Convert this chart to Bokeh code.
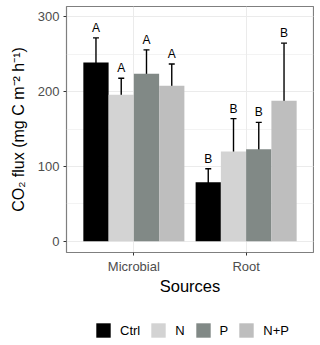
from bokeh.plotting import figure
from bokeh.layouts import column
from bokeh.models import (ColumnDataSource, Range1d, FixedTicker, SingleIntervalTicker,
                          Whisker, TeeHead, Legend, LegendItem)
from bokeh.transform import dodge
from bokeh.core.properties import value
from bokeh.embed import file_html
from bokeh.resources import INLINE

sources = ["Microbial", "Root"]
treatments = ["Ctrl", "N", "P", "N+P"]
colors = ["#000000", "#d3d3d3", "#818986", "#bebebe"]
mean_ctrl = [239, 79]
mean_n = [196, 120]
mean_p = [224, 123]
mean_np = [208, 188]
se_ctrl = [33, 18]
se_n = [22, 44]
se_p = [32, 36]
se_np = [29, 77]
letters_ctrl = ["A", "B"]
letters_n = ["A", "B"]
letters_p = ["A", "B"]
letters_np = ["A", "B"]

means = [mean_ctrl, mean_n, mean_p, mean_np]
ses = [se_ctrl, se_n, se_p, se_np]
letters = [letters_ctrl, letters_n, letters_p, letters_np]

FONT = "Liberation Sans"
dodge_width = 0.9
bar_w = dodge_width / len(treatments)
pos = list(range(1, len(sources) + 1))

p = figure(width=314, height=297, x_range=Range1d(0.4, 2.6), y_range=Range1d(-15, 314),
           output_backend="svg", toolbar_location=None,
           min_border_left=66, min_border_right=1, min_border_top=6, min_border_bottom=44)

# legend-only figure below the main plot (frames are aligned by the column)
lf = figure(width=314, height=43, x_range=Range1d(0, 1), y_range=Range1d(0, 1),
            output_backend="svg", toolbar_location=None,
            x_axis_location=None, y_axis_location=None,
            min_border_left=0, min_border_right=0, min_border_top=0, min_border_bottom=0)
lf.xgrid.visible = False
lf.ygrid.visible = False
lf.outline_line_color = None

items = []
for j, t in enumerate(treatments):
    off = (j - (len(treatments) - 1) / 2) * bar_w
    m = means[j]
    s = ses[j]
    src = ColumnDataSource(dict(
        pos=pos, mean=m,
        upper=[a + b for a, b in zip(m, s)],
        lower=[a - b for a, b in zip(m, s)],
        letter=letters[j],
    ))
    p.vbar(x=dodge("pos", off, range=p.x_range), top="mean", bottom=0, width=bar_w,
           source=src, fill_color=colors[j], line_color=None)
    lr = lf.vbar(x="pos", top="mean", bottom=0, width=bar_w, source=src,
                 fill_color=colors[j], line_color=None, visible=False)
    items.append(LegendItem(label=t, renderers=[lr]))
    w = Whisker(base=dodge("pos", off, range=p.x_range), upper="upper", lower="lower", source=src,
                line_color="black", line_width=1.4,
                upper_head=TeeHead(size=6, line_color="black", line_width=1.4),
                lower_head=TeeHead(size=6, line_color="black", line_width=1.4))
    p.add_layout(w)
    p.text(x=dodge("pos", off, range=p.x_range), y="upper", text="letter", source=src,
           text_font=value(FONT), text_font_size="12px", text_color="black",
           text_align="center", text_baseline="bottom", y_offset=-3)

legend = Legend(items=items, orientation="horizontal", location=(28, 1),
                glyph_width=18, glyph_height=18, label_height=18, label_width=0,
                label_standoff=8, spacing=9, padding=0, margin=0,
                border_line_color=None, background_fill_alpha=0,
                label_text_font=FONT, label_text_font_size="13px", label_text_color="black")
lf.add_layout(legend, "center")

# axes
p.xaxis.ticker = FixedTicker(ticks=pos)
p.xaxis.major_label_overrides = {i: s for i, s in zip(pos, sources)}
p.xaxis.axis_label = "Sources"
p.yaxis.ticker = SingleIntervalTicker(interval=100, num_minor_ticks=2)
p.yaxis.axis_label = "CO\u2082 flux (mg C m\u207b\u00b2 h\u207b\u00b9)"
for ax in (p.xaxis, p.yaxis):
    ax.axis_line_color = None
    ax.major_tick_line_color = "#333333"
    ax.major_tick_out = 3
    ax.major_tick_in = 0
    ax.minor_tick_line_color = None
    ax.major_label_text_font = FONT
    ax.major_label_text_font_size = "13px"
    ax.major_label_text_color = "#4d4d4d"
    ax.major_label_standoff = 3
    ax.axis_label_text_font = FONT
    ax.axis_label_text_font_style = "normal"
    ax.axis_label_text_color = "black"
p.xaxis.axis_label_text_font_size = "16.5px"
p.yaxis.axis_label_text_font_size = "16px"
p.xaxis.axis_label_standoff = 0
p.yaxis.axis_label_standoff = 8

p.xgrid.grid_line_color = "#ebebeb"
p.ygrid.grid_line_color = "#ebebeb"
p.ygrid.minor_grid_line_color = "#ebebeb"
p.ygrid.minor_grid_line_width = 0.6

p.outline_line_color = "#7f7f7f"
p.outline_line_width = 1.2
p.background_fill_color = "white"
p.border_fill_color = "white"

layout = column(p, lf, spacing=0)
open("out.html", "w").write(file_html(layout, INLINE))
